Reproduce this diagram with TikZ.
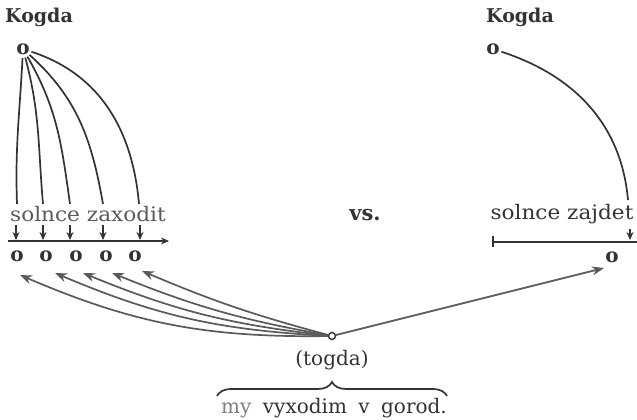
\documentclass[tikz,border=0pt]{standalone}
\usepackage{fontspec}
\setmainfont{DejaVu Serif}
\newfontfamily\wideserif[FakeStretch=1.08]{DejaVu Serif}
\newfontfamily\spacedserif[WordSpace=1.8]{DejaVu Serif}
\usetikzlibrary{arrows.meta,decorations.pathreplacing}
\definecolor{ink}{HTML}{333333}
\definecolor{inkl}{HTML}{5A5A5A}
\begin{document}
\begin{tikzpicture}[x=1pt,y=1pt,
  line/.style={draw=ink, line width=1.7pt},
  arr/.style={line, -{Stealth[length=8pt,width=7pt]}},
  garr/.style={draw=inkl, line width=1.7pt, -{Stealth[length=12pt,width=9pt]}},
  lbl/.style={font=\fontsize{20}{22}\selectfont, text=ink, inner sep=0pt},
  head/.style={font=\fontsize{19}{21}\selectfont\bfseries, text=ink, inner sep=0pt},
  pt/.style={circle, font=\fontsize{20}{22}\selectfont\bfseries, text=ink, inner sep=0pt},
  dot/.style={circle, draw=ink, line width=1.4pt, minimum size=7pt, inner sep=0pt},
]
\useasboundingbox (0,0) rectangle (637,420);
% ---------- left part ----------
\node[head] (kl) at (39,403) {Kogda};
\node[pt] (ko) at (23,371) {o};
\coordinate (e1) at (17,216);
\coordinate (e2) at (43,216);
\coordinate (e3) at (70,216);
\coordinate (e4) at (103,216);
\coordinate (e5) at (139,216);
\draw[line] (ko) to[out=-93,in=92] (e1);
\draw[line] (ko) to[out=-75,in=95] (e2);
\draw[line] (ko) to[out=-60,in=98] (e3);
\draw[line] (ko) to[out=-42,in=100] (e4);
\draw[line] (ko) to[out=-18,in=95] (e5);
\node[lbl, text=inkl, font=\fontsize{20}{22}\wideserif] (sz) at (88,206) {solnce zaxodit};
\foreach \i/\x in {1/16,2/43,3/70,4/103,5/140}{
  \coordinate (a\i) at (\x,195);
  \coordinate (b\i) at (\x,180);
  \draw[arr] (a\i) -- (b\i);
}
\coordinate (ls) at (8,179);
\coordinate (le) at (169,179);
\draw[arr] (ls) -- (le);
\foreach \i/\x in {1/17,2/46,3/76,4/106,5/135}{
  \node[pt] (o\i) at (\x,164) {o};
}
% ---------- vs ----------
\node[head, font=\fontsize{21}{23}\selectfont\bfseries] (vs) at (365,205) {vs.};
% ---------- right part ----------
\node[head] (kr) at (520,403) {Kogda};
\node[pt] (kro) at (493,371) {o};
\coordinate (re) at (628,220);
\draw[line] (kro) to[out=-18,in=95] (re);
\node[lbl, font=\fontsize{20}{22}\wideserif] (sj) at (562,206) {solnce zajdet};
\coordinate (ra) at (630,191);
\coordinate (rb) at (630,180);
\draw[arr] (ra) -- (rb);
\coordinate (rs) at (492,178);
\coordinate (rt) at (637,178);
\draw[line, {Bar[width=11pt]}-] (rs) -- (rt);
\node[pt] (ro) at (612,163) {o};
% ---------- togda ----------
\node[dot] (t) at (332,84) {};
\coordinate (t1) at (20,145);
\coordinate (t2) at (55,147);
\coordinate (t3) at (83,147);
\coordinate (t4) at (112,147);
\coordinate (t5) at (142,149);
\foreach \i/\b in {1/12,2/10,3/8,4/6,5/4}{
  \draw[garr] (t) to[bend left=\b] (t\i);
}
\coordinate (tr) at (604,152);
\draw[garr] (t) -- (tr);
\node[lbl] (tg) at (332,60) {(togda)};
\coordinate (bl) at (217,24);
\coordinate (br) at (447,24);
\draw[line, decorate, decoration={brace, amplitude=14pt}] (bl) -- (br);
\node[lbl, font=\fontsize{20}{22}\spacedserif] (my) at (334,12) {\textcolor{gray}{my} vyxodim v gorod.};
\end{tikzpicture}
\end{document}
